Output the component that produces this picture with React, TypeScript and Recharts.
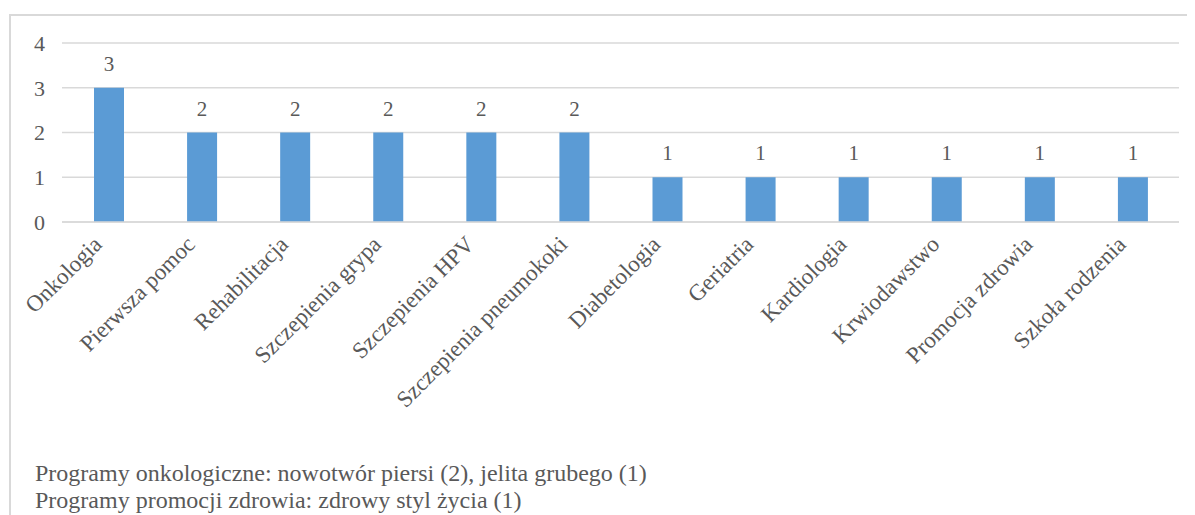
import React from 'react'
import { BarChart, Bar, XAxis, YAxis, CartesianGrid, LabelList } from 'recharts'

const categories = [
  'Onkologia',
  'Pierwsza pomoc',
  'Rehabilitacja',
  'Szczepienia grypa',
  'Szczepienia HPV',
  'Szczepienia pneumokoki',
  'Diabetologia',
  'Geriatria',
  'Kardiologia',
  'Krwiodawstwo',
  'Promocja zdrowia',
  'Szkoła rodzenia'
]
const counts = [3, 2, 2, 2, 2, 2, 1, 1, 1, 1, 1, 1]
const yTicks = [0, 1, 2, 3, 4]
const notes = [
  'Programy onkologiczne: nowotwór piersi (2), jelita grubego (1)',
  'Programy promocji zdrowia: zdrowy styl życia (1)'
]

const FONT = "'Liberation Serif', 'Times New Roman', serif"
const TEXT = '#595959'

// rotated category label, end of text sits just below-left of the tick
function CategoryTick({ x, y, payload }: any) {
  return (
    <g transform={`translate(${x - 11},${y + 10})`}>
      <text
        textAnchor="end"
        dy="0.35em"
        transform="rotate(-45)"
        fill={TEXT}
        fontSize={23}
        fontFamily={FONT}
      >
        {payload.value}
      </text>
    </g>
  )
}

export default function App() {
  const data = categories.map((name, i) => ({ name, value: counts[i] }))

  return (
    <div style={{ position: 'relative', width: 1187, height: 507, fontFamily: FONT, overflow: 'hidden' }}>
      {/* frame round the chart, open on the right and bottom */}
      <div
        style={{
          position: 'absolute',
          left: 1,
          top: 6,
          width: 1300,
          height: 600,
          borderLeft: '2px solid #d9d9d9',
          borderTop: '2px solid #d9d9d9'
        }}
      />
      <div style={{ position: 'absolute', left: 0, top: 0 }}>
        <BarChart width={1187} height={420} data={data} margin={{ top: 35, right: 16, bottom: 6, left: 0 }}>
          <CartesianGrid vertical={false} stroke="#d9d9d9" strokeWidth={1.5} />
          <XAxis
            dataKey="name"
            interval={0}
            height={200}
            axisLine={{ stroke: '#d9d9d9', strokeWidth: 1.5 }}
            tickLine={false}
            tick={<CategoryTick />}
          />
          <YAxis
            width={54}
            domain={[0, 4]}
            ticks={yTicks}
            axisLine={false}
            tickLine={false}
            tickMargin={11}
            tick={{ fontSize: 22, fill: TEXT, fontFamily: FONT }}
          />
          <Bar dataKey="value" fill="#5b9bd5" barSize={30} isAnimationActive={false}>
            <LabelList dataKey="value" position="top" offset={17} fill={TEXT} fontSize={21} fontFamily={FONT} />
          </Bar>
        </BarChart>
      </div>
      <div
        style={{
          position: 'absolute',
          left: 27,
          top: 452,
          fontSize: 24,
          lineHeight: '27px',
          color: TEXT,
          whiteSpace: 'nowrap'
        }}
      >
        {notes.map((n) => (
          <div key={n}>{n}</div>
        ))}
      </div>
    </div>
  )
}
